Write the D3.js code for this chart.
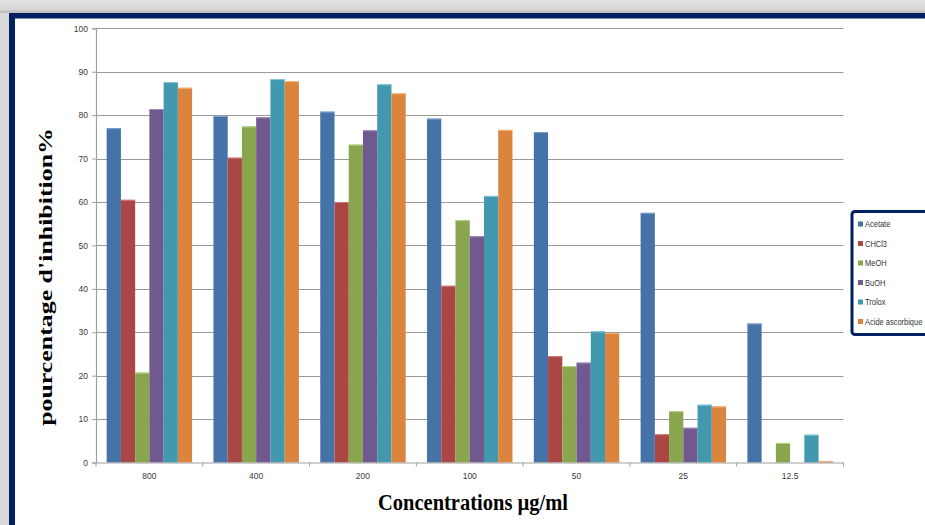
<!DOCTYPE html>
<html>
<head>
<meta charset="utf-8">
<script src="https://cdn.jsdelivr.net/npm/d3@7/dist/d3.min.js"></script>
<style>
  html, body { margin: 0; padding: 0; background: #fff; }
  svg { display: block; }
</style>
</head>
<body>
<svg id="chart" width="925" height="525"></svg>
<script>
// Concentrations (µg/ml) along the x axis
const concentrations = ["800", "400", "200", "100", "50", "25", "12.5"];

// Extracts / references
const seriesNames = ["Acetate", "CHCl3", "MeOH", "BuOH", "Trolox", "Acide ascorbique"];

// Inhibition percentages per extract, one value per concentration
const acetate = [77.0, 79.8, 80.8, 79.2, 76.1, 57.5, 32.0];
const chcl3   = [60.5, 70.2, 60.0, 40.7, 24.5, 6.5, 0];
const meoh    = [20.7, 77.4, 73.2, 55.8, 22.2, 11.8, 4.5];
const buoh    = [81.4, 79.5, 76.5, 52.1, 23.0, 8.0, 0];
const trolox  = [87.6, 88.3, 87.1, 61.4, 30.2, 13.3, 6.4];
const acide   = [86.3, 87.8, 85.0, 76.6, 29.8, 12.9, 0.3];

const yTicks = [0, 10, 20, 30, 40, 50, 60, 70, 80, 90, 100];

const seriesValues = [acetate, chcl3, meoh, buoh, trolox, acide];
const colors = ["#4572A7", "#AA4643", "#89A54E", "#71588F", "#4198AF", "#DB843D"];
const highlights = ["#7FA3D1", "#D47D7A", "#B5CF83", "#A08BBE", "#80C8DC", "#F4B07A"];

const svg = d3.select("#chart");

// ---- outer frame ----
const defs = svg.append("defs");
const gTop = defs.append("linearGradient").attr("id", "shadeTop").attr("x1", 0).attr("y1", 0).attr("x2", 0).attr("y2", 1);
gTop.append("stop").attr("offset", "0%").attr("stop-color", "#e4e4e4");
gTop.append("stop").attr("offset", "70%").attr("stop-color", "#d8d8d8");
gTop.append("stop").attr("offset", "100%").attr("stop-color", "#b8b8b8");
const gLeft = defs.append("linearGradient").attr("id", "shadeLeft").attr("x1", 0).attr("y1", 0).attr("x2", 1).attr("y2", 0);
gLeft.append("stop").attr("offset", "0%").attr("stop-color", "#dadada");
gLeft.append("stop").attr("offset", "60%").attr("stop-color", "#c6c6c6");
gLeft.append("stop").attr("offset", "100%").attr("stop-color", "#b0b0b0");

svg.append("rect").attr("x", 0).attr("y", 0).attr("width", 925).attr("height", 525).attr("fill", "url(#shadeLeft)");
svg.append("rect").attr("x", 0).attr("y", 0).attr("width", 925).attr("height", 13).attr("fill", "url(#shadeTop)");
svg.append("rect").attr("x", 9).attr("y", 13).attr("width", 960).attr("height", 560).attr("fill", "#002060");
svg.append("rect").attr("x", 15).attr("y", 18.5).attr("width", 960).attr("height", 560).attr("fill", "#ffffff");

// ---- scales ----
const plot = { left: 96, right: 843.5, top: 28.3, bottom: 462.5 };

const x0 = d3.scaleBand()
  .domain(concentrations)
  .range([plot.left, plot.right])
  .paddingInner(0).paddingOuter(0);

const x1 = d3.scaleBand()
  .domain(seriesNames)
  .range([0, x0.bandwidth()])
  .paddingInner(0).paddingOuter(0.75);

const y = d3.scaleLinear().domain([0, 100]).range([plot.bottom, plot.top]);

// ---- gridlines ----
svg.append("g")
  .selectAll("line")
  .data(yTicks.filter(t => t > 0))
  .join("line")
  .attr("x1", plot.left).attr("x2", plot.right)
  .attr("y1", d => Math.round(y(d)) + 0.5).attr("y2", d => Math.round(y(d)) + 0.5)
  .attr("stroke", "#9a9a9a").attr("stroke-width", 1.2);

// ---- bars ----
const groups = svg.append("g")
  .selectAll("g")
  .data(concentrations)
  .join("g")
  .attr("transform", d => `translate(${x0(d)},0)`);

seriesNames.forEach((name, si) => {
  groups.append("rect")
    .attr("x", x1(name))
    .attr("width", x1.bandwidth())
    .attr("y", (d, ci) => y(seriesValues[si][ci]))
    .attr("height", (d, ci) => y(0) - y(seriesValues[si][ci]))
    .attr("fill", colors[si]);
  groups.filter((d, ci) => seriesValues[si][ci] > 0)
    .append("line")
    .attr("x1", x1(name)).attr("x2", x1(name) + x1.bandwidth())
    .attr("y1", (d) => y(seriesValues[si][concentrations.indexOf(d)]) + 0.5)
    .attr("y2", (d) => y(seriesValues[si][concentrations.indexOf(d)]) + 0.5)
    .attr("stroke", highlights[si]).attr("stroke-width", 1);
});

// ---- axes ----
const yAxis = d3.axisLeft(y).tickValues(yTicks).tickSize(4).tickPadding(4);
const gy = svg.append("g").attr("transform", `translate(${plot.left},0)`).call(yAxis);
gy.select(".domain").attr("stroke", "#a0a0a0").attr("stroke-width", 1.2);
gy.selectAll(".tick line").attr("stroke", "#a0a0a0");
gy.selectAll(".tick text")
  .attr("font-family", "Liberation Sans, Arial, sans-serif")
  .attr("font-size", 8.5).attr("fill", "#3a3a3a");

const xAxis = d3.axisBottom(x0).tickSize(0).tickPadding(10);
const gx = svg.append("g").attr("transform", `translate(0,${plot.bottom})`).call(xAxis);
gx.select(".domain").attr("stroke", "#a0a0a0").attr("stroke-width", 1.2);
gx.selectAll(".tick text")
  .attr("font-family", "Liberation Sans, Arial, sans-serif")
  .attr("font-size", 8.5).attr("fill", "#3a3a3a");
// tick marks on the category boundaries
const boundaries = concentrations.map(c => x0(c)).concat([plot.right]);
gx.append("g").selectAll("line")
  .data(boundaries)
  .join("line")
  .attr("x1", d => d).attr("x2", d => d)
  .attr("y1", 0).attr("y2", 4)
  .attr("stroke", "#a0a0a0");

// ---- axis titles ----
const yTitle = svg.append("text")
  .attr("text-anchor", "middle")
  .attr("font-family", "Liberation Serif, Times New Roman, serif")
  .attr("font-weight", "bold")
  .attr("font-size", 19)
  .attr("fill", "#000")
  .text("pourcentage d'inhibition%");
// stretch along the reading direction to span the axis height
const yLen = yTitle.node().getComputedTextLength();
yTitle.attr("transform", `translate(52,277) rotate(-90) scale(${298 / yLen},1)`);

svg.append("text")
  .attr("x", 473).attr("y", 510)
  .attr("text-anchor", "middle")
  .attr("font-family", "Liberation Serif, Times New Roman, serif")
  .attr("font-weight", "bold")
  .attr("font-size", 24)
  .attr("textLength", 190)
  .attr("lengthAdjust", "spacingAndGlyphs")
  .attr("fill", "#000")
  .text("Concentrations µg/ml");

// ---- legend ----
const legend = svg.append("g");
legend.append("rect")
  .attr("x", 852).attr("y", 211.5).attr("width", 110).attr("height", 123)
  .attr("rx", 3).attr("ry", 3)
  .attr("fill", "#fff").attr("stroke", "#002060").attr("stroke-width", 3);

const ly = d3.scalePoint().domain(seriesNames).range([224, 321.5]);
const items = legend.selectAll("g.item")
  .data(seriesNames)
  .join("g")
  .attr("class", "item")
  .attr("transform", d => `translate(858,${ly(d)})`);
items.append("rect")
  .attr("x", 0).attr("y", -2.5).attr("width", 5).attr("height", 5)
  .attr("fill", (d, i) => colors[i]);
items.append("text")
  .attr("transform", "translate(7,3) scale(0.88,1)")
  .attr("font-family", "Liberation Sans, Arial, sans-serif")
  .attr("font-size", 8.5).attr("fill", "#333")
  .text(d => d);
</script>
</body>
</html>
